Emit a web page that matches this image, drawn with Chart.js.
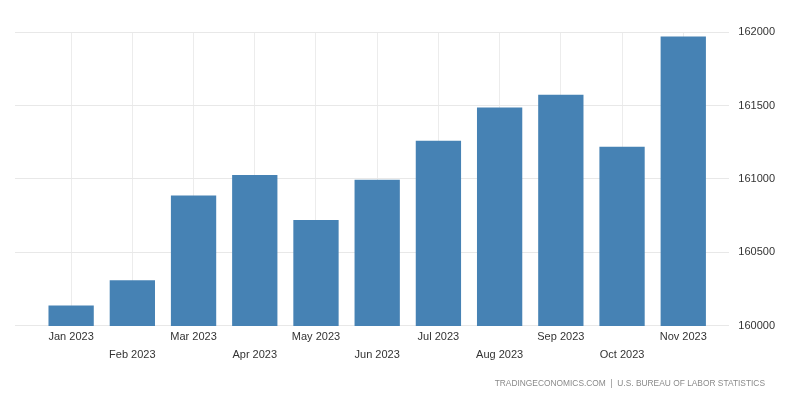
<!DOCTYPE html>
<html>
<head>
<meta charset="utf-8">
<script src="https://cdn.jsdelivr.net/npm/chart.js@4/dist/chart.umd.min.js"></script>
<style>
    html, body { margin: 0; padding: 0; background: #fff; }
    #wrap { position: relative; width: 800px; height: 401px; }
    #source {
        position: absolute;
        right: 35px;
        top: 378px;
        font-family: "Liberation Sans", Arial, sans-serif;
        font-size: 8.4px;
        color: #8a8a8a;
        white-space: pre;
    }
</style>
</head>
<body>
<div id="wrap">
    <canvas id="employmentChart" width="800" height="401"></canvas>
    <div id="source"></div>
</div>
<script>
const months = ["Jan 2023", "Feb 2023", "Mar 2023", "Apr 2023", "May 2023", "Jun 2023",
    "Jul 2023", "Aug 2023", "Sep 2023", "Oct 2023", "Nov 2023"];
const employed = [160138, 160310, 160888, 161027, 160721, 160995,
    161260, 161486, 161573, 161219, 161970];
const yTicks = [160000, 160500, 161000, 161500, 162000];
const sourceText = "TRADINGECONOMICS.COM  |  U.S. BUREAU OF LABOR STATISTICS";

document.getElementById("source").textContent = sourceText;

const ctx = document.getElementById("employmentChart").getContext("2d");

new Chart(ctx, {
    type: "bar",
    data: {
        datasets: [{
            label: "Employed Persons",
            data: months.map((m, i) => ({ x: i, y: employed[i] })),
            backgroundColor: "#4682B4",
            borderWidth: 0,
            barPercentage: 0.74,
            categoryPercentage: 1
        }]
    },
    options: {
        responsive: false,
        animation: false,
        layout: { padding: { top: 32, left: 15, right: 16, bottom: 35 } },
        plugins: {
            legend: { display: false },
            tooltip: { enabled: false }
        },
        scales: {
            x: {
                type: "linear",
                offset: false,
                min: -0.917,
                max: 10.752,
                border: { display: false },
                grid: { offset: false, color: "#ececec", drawTicks: false },
                ticks: {
                    stepSize: 1,
                    includeBounds: false,
                    autoSkip: false,
                    maxRotation: 0,
                    padding: 3,
                    color: "#333",
                    font: { family: "Liberation Sans, Arial, sans-serif", size: 11, lineHeight: 1.55 },
                    callback: (v) => {
                        if (!Number.isInteger(v) || !months[v]) return "";
                        return v % 2 === 0 ? [months[v], ""] : ["", months[v]];
                    }
                }
            },
            y: {
                position: "right",
                min: yTicks[0],
                max: yTicks[yTicks.length - 1],
                border: { display: false },
                grid: { color: "#e8e8e8", drawTicks: false },
                afterBuildTicks: (scale) => {
                    scale.ticks = yTicks.map((v) => ({ value: v }));
                },
                ticks: {
                    padding: 9,
                    color: "#333",
                    font: { family: "Liberation Sans, Arial, sans-serif", size: 11 },
                    callback: (v) => String(v)
                }
            }
        }
    }
});
</script>
</body>
</html>
